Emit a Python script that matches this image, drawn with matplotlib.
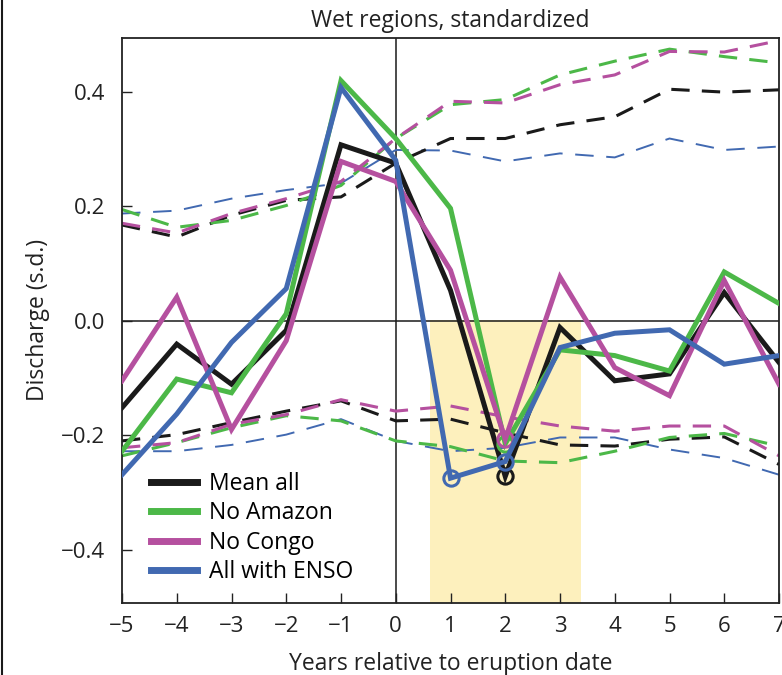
import matplotlib
matplotlib.use('Agg')
import matplotlib.pyplot as plt
from matplotlib.lines import Line2D

plt.rcParams['font.family'] = ['Open Sans', 'DejaVu Sans']

years = [-5, -4, -3, -2, -1, 0, 1, 2, 3, 4, 5, 6, 7]

# solid lines
mean_all = [-0.152, -0.041, -0.111, -0.017, 0.307, 0.275, 0.053, -0.272, -0.012, -0.105, -0.093, 0.049, -0.073]
no_amazon = [-0.228, -0.102, -0.126, 0.012, 0.419, 0.318, 0.196, -0.215, -0.051, -0.061, -0.088, 0.085, 0.030]
no_congo = [-0.105, 0.041, -0.190, -0.035, 0.278, 0.243, 0.088, -0.207, 0.076, -0.082, -0.131, 0.070, -0.111]
with_enso = [-0.269, -0.163, -0.038, 0.056, 0.407, 0.280, -0.275, -0.246, -0.047, -0.022, -0.016, -0.076, -0.061]

# dashed upper bounds
mean_all_hi = [0.167, 0.146, 0.184, 0.210, 0.216, 0.275, 0.318, 0.318, 0.342, 0.356, 0.404, 0.399, 0.403]
no_amazon_hi = [0.194, 0.163, 0.175, 0.201, 0.236, 0.318, 0.377, 0.386, 0.429, 0.453, 0.474, 0.461, 0.450]
no_congo_hi = [0.170, 0.153, 0.187, 0.213, 0.243, 0.318, 0.383, 0.380, 0.412, 0.429, 0.470, 0.469, 0.489]
with_enso_hi = [0.187, 0.192, 0.213, 0.228, 0.240, 0.298, 0.297, 0.278, 0.292, 0.285, 0.318, 0.298, 0.304]

# dashed lower bounds
mean_all_lo = [-0.210, -0.199, -0.178, -0.158, -0.140, -0.175, -0.172, -0.196, -0.217, -0.219, -0.207, -0.203, -0.251]
no_amazon_lo = [-0.236, -0.213, -0.187, -0.166, -0.175, -0.210, -0.220, -0.245, -0.248, -0.228, -0.204, -0.197, -0.219]
no_congo_lo = [-0.222, -0.213, -0.181, -0.164, -0.138, -0.158, -0.149, -0.168, -0.184, -0.193, -0.184, -0.184, -0.236]
with_enso_lo = [-0.228, -0.228, -0.217, -0.199, -0.172, -0.210, -0.228, -0.222, -0.204, -0.204, -0.225, -0.240, -0.269]

labels = ['Mean all', 'No Amazon', 'No Congo', 'All with ENSO']
circled = [[2], [2], [2], [1, 2]]
shade_span = (0.62, 3.38)

black = '#1a1a1a'
green = '#4cb848'
magenta = '#b5509f'
blue = '#4169b1'
yellow = '#fdf0bd'

fig = plt.figure(figsize=(7.82, 6.75), dpi=100)
ax = fig.add_axes([122 / 782, 72 / 675, 657 / 782, 565.3 / 675])

ax.axvspan(shade_span[0], shade_span[1], ymax=0.4935 / 0.987, color=yellow, lw=0, zorder=0)
ax.axhline(0, color=black, lw=1.1, zorder=1)
ax.axvline(0, color=black, lw=1.1, zorder=1)

# dashed envelopes
ax.plot(years, with_enso_hi, color=blue, lw=1.4, ls=(0, (9.5, 6.5)), zorder=2)
ax.plot(years, with_enso_lo, color=blue, lw=1.4, ls=(0, (9.5, 6.5)), zorder=2)
for hi, lo, c in [(mean_all_hi, mean_all_lo, black),
                  (no_amazon_hi, no_amazon_lo, green),
                  (no_congo_hi, no_congo_lo, magenta)]:
    ax.plot(years, hi, color=c, lw=2.2, ls=(0, (6, 4)), zorder=2)
    ax.plot(years, lo, color=c, lw=2.2, ls=(0, (6, 4)), zorder=2)

series = [mean_all, no_amazon, no_congo, with_enso]
colors = [black, green, magenta, blue]
order = [1, 0, 2, 3]
for i in order:
    ax.plot(years, series[i], color=colors[i], lw=3.6, solid_joinstyle='miter', zorder=3 + i)
    xs = circled[i]
    ys = [series[i][years.index(x)] for x in xs]
    ax.plot(xs, ys, 'o', ms=11, mfc='none', mec=colors[i], mew=2.2, zorder=3 + i)

handles = [Line2D([], [], color=c, lw=5) for c in colors]
ax.legend(handles, labels, loc='upper left', bbox_to_anchor=(0.044, 0.232),
          frameon=False, fontsize=16.5, handlelength=2.0, handletextpad=0.55,
          labelspacing=0.24, borderpad=0, borderaxespad=0)

ax.set_xlim(-5, 7)
ax.set_ylim(-0.493, 0.494)
ax.set_xticks(years)
ax.set_xticklabels([str(y).replace('-', '\u2212') for y in years])
ax.set_yticks([-0.4, -0.2, 0.0, 0.2, 0.4])
ax.set_yticklabels(['\u22120.4', '\u22120.2', '0.0', '0.2', '0.4'])
ax.tick_params(direction='in', length=7, width=1, labelsize=16, colors='#222222')
ax.tick_params(axis='x', pad=9)
ax.tick_params(axis='y', pad=12)
for s in ax.spines.values():
    s.set_linewidth(1.3)
    s.set_color('#222222')

ax.set_title('Wet regions, standardized', fontsize=16.5, pad=8, color='#222222')
ax.set_xlabel('Years relative to eruption date', fontsize=16.5, labelpad=11, color='#222222')
ax.set_ylabel('Discharge (s.d.)', fontsize=16.5, labelpad=8, color='#222222')

# page edge line at the left border
fig.add_artist(Line2D([0.002, 0.002], [0, 1], transform=fig.transFigure, color=black, lw=1.5))

fig.savefig('out.png', dpi=100)
